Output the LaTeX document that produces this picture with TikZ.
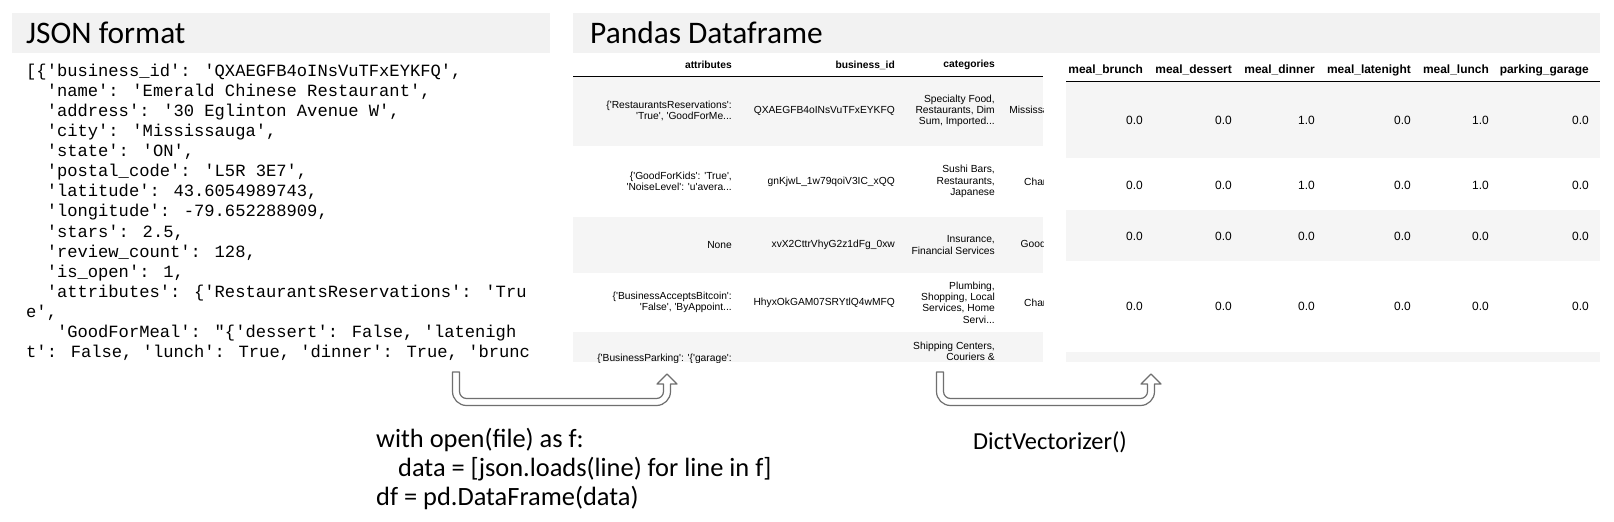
\documentclass[tikz,border=0pt]{standalone}
\usepackage{fontspec}
\setmainfont{Carlito}
\newfontfamily\jsonfont{Liberation Mono}
\newfontfamily\tabfont{Liberation Sans}
\definecolor{barcol}{HTML}{F2F2F2}
\definecolor{rowcol}{HTML}{F5F5F5}
\definecolor{arrcol}{HTML}{6F6F6F}
\begin{document}
\begin{tikzpicture}[x=1bp,y=-1bp,
  json/.style={inner sep=0pt, anchor=base west, font=\jsonfont\fontsize{17.2}{20}\selectfont},
  titletxt/.style={inner sep=0pt, anchor=base west, font=\fontsize{31.5}{36}\selectfont},
  captxt/.style={inner sep=0pt, anchor=base west, font=\fontsize{26.5}{32}\selectfont},
  cellA/.style={inner sep=0pt, anchor=east, align=right, font=\tabfont\fontsize{10.3}{11.3}\selectfont},
  headA/.style={inner sep=0pt, anchor=east, font=\tabfont\bfseries\fontsize{10.3}{11.3}\selectfont},
  cellB/.style={inner sep=0pt, anchor=east, font=\tabfont\fontsize{12}{14}\selectfont},
  headB/.style={inner sep=0pt, anchor=east, font=\tabfont\bfseries\fontsize{12}{14}\selectfont},
  arrowshape/.style={draw=arrcol, fill=white, line width=1.2bp, line join=round},
  uturn/.pic={
    \draw[arrowshape] (452.5,372) -- (452.5,391.5) .. controls (452.5,399.23) and (458.77,405.5) .. (466.5,405.5)
      -- (656.5,405.5) .. controls (664.23,405.5) and (670.5,399.23) .. (670.5,391.5)
      -- (670.5,384) -- (677,384) -- (667,374) -- (657,384) -- (663.5,384)
      -- (663.5,391.5) .. controls (663.5,395.37) and (660.37,398.5) .. (656.5,398.5)
      -- (466.5,398.5) .. controls (462.63,398.5) and (459.5,395.37) .. (459.5,391.5)
      -- (459.5,372) -- cycle;
  }
]
\useasboundingbox (0,0) rectangle (1614,522);
\fill[white] (0,0) rectangle (1614,522);

% header bars
\fill[barcol] (12,13) rectangle (550,53);
\fill[barcol] (573,13) rectangle (1600,53);
\node[titletxt] (tj) at (26,44) {JSON format};
\node[titletxt] (tp) at (590,44) {Pandas Dataframe};

% JSON text
\node[json] (j1) at (26,76.5) {[\{'business\_id': 'QXAEGFB4oINsVuTFxEYKFQ',};
\node[json] (j2) at (26,96.6) {\hphantom{xx}'name': 'Emerald Chinese Restaurant',};
\node[json] (j3) at (26,116.6) {\hphantom{xx}'address': '30 Eglinton Avenue W',};
\node[json] (j4) at (26,136.7) {\hphantom{xx}'city': 'Mississauga',};
\node[json] (j5) at (26,156.8) {\hphantom{xx}'state': 'ON',};
\node[json] (j6) at (26,176.9) {\hphantom{xx}'postal\_code': 'L5R 3E7',};
\node[json] (j7) at (26,196.9) {\hphantom{xx}'latitude': 43.6054989743,};
\node[json] (j8) at (26,217.0) {\hphantom{xx}'longitude': -79.652288909,};
\node[json] (j9) at (26,237.1) {\hphantom{xx}'stars': 2.5,};
\node[json] (j10) at (26,257.1) {\hphantom{xx}'review\_count': 128,};
\node[json] (j11) at (26,277.2) {\hphantom{xx}'is\_open': 1,};
\node[json] (j12) at (26,297.3) {\hphantom{xx}'attributes': \{'RestaurantsReservations': 'Tru};
\node[json] (j13) at (26,317.3) {e',};
\node[json] (j14) at (26,337.4) {\hphantom{xxx}'GoodForMeal': "\{'dessert': False, 'latenigh};
\node[json] (j15) at (26,357.5) {t': False, 'lunch': True, 'dinner': True, 'brunc};

% first table
\begin{scope}
\clip (573,54) rectangle (1043,362);
\fill[rowcol] (573,76) rectangle (1043,146);
\fill[rowcol] (573,217) rectangle (1043,273);
\fill[rowcol] (573,332) rectangle (1043,362);
\draw[line width=0.9bp] (573,76) -- (1043,76);
\node[headA] (ha) at (732,65) {attributes};
\node[headA] (hb) at (895,65) {business\_id};
\node[headA] (hc) at (995,65) {categories};
\node[cellA] (a1) at (732,111) {\{'RestaurantsReservations':\\'True', 'GoodForMe...};
\node[cellA] (b1) at (895,111) {QXAEGFB4oINsVuTFxEYKFQ};
\node[cellA] (c1) at (995,111) {Specialty Food,\\Restaurants, Dim\\Sum, Imported...};
\node[cellA] (d1) at (1066,111) {Mississauga};
\node[cellA] (a2) at (732,181.5) {\{'GoodForKids': 'True',\\'NoiseLevel': 'u'avera...};
\node[cellA] (b2) at (895,181.5) {gnKjwL\_1w79qoiV3IC\_xQQ};
\node[cellA] (c2) at (995,181.5) {Sushi Bars,\\Restaurants,\\Japanese};
\node[cellA] (d2) at (1066,181.5) {Charlotte};
\node[cellA] (a3) at (732,245) {None};
\node[cellA] (b3) at (895,245) {xvX2CttrVhyG2z1dFg\_0xw};
\node[cellA] (c3) at (995,245) {Insurance,\\Financial Services};
\node[cellA] (d3) at (1066,245) {Goodyear};
\node[cellA] (a4) at (732,302.5) {\{'BusinessAcceptsBitcoin':\\'False', 'ByAppoint...};
\node[cellA] (b4) at (895,302.5) {HhyxOkGAM07SRYtlQ4wMFQ};
\node[cellA] (c4) at (995,302.5) {Plumbing,\\Shopping, Local\\Services, Home\\Servi...};
\node[cellA] (d4) at (1066,302.5) {Charlotte};
\node[cellA, anchor=north east] (a5) at (732,354) {\{'BusinessParking': '\{'garage':};
\node[cellA, anchor=north east] (c5) at (995,342) {Shipping Centers,\\Couriers \&};
\end{scope}

% second table
\begin{scope}
\clip (1066,54) rectangle (1600,362);
\fill[rowcol] (1066,81) rectangle (1600,158);
\fill[rowcol] (1066,210) rectangle (1600,261);
\fill[rowcol] (1066,352) rectangle (1600,362);
\draw[line width=0.9bp] (1066,81) -- (1600,81);
\node[headB] (m1) at (1143,70) {meal\_brunch};
\node[headB] (m2) at (1232,70) {meal\_dessert};
\node[headB] (m3) at (1315,70) {meal\_dinner};
\node[headB] (m4) at (1411,70) {meal\_latenight};
\node[headB] (m5) at (1489,70) {meal\_lunch};
\node[headB] (m6) at (1589,70) {parking\_garage};
\foreach \y/\va/\vb/\vc/\vd/\ve/\vf [count=\r] in
  {120/0.0/0.0/1.0/0.0/1.0/0.0, 185/0.0/0.0/1.0/0.0/1.0/0.0,
   236/0.0/0.0/0.0/0.0/0.0/0.0, 306/0.0/0.0/0.0/0.0/0.0/0.0}{
  \node[cellB] (v\r a) at (1143,\y) {\va};
  \node[cellB] (v\r b) at (1232,\y) {\vb};
  \node[cellB] (v\r c) at (1315,\y) {\vc};
  \node[cellB] (v\r d) at (1411,\y) {\vd};
  \node[cellB] (v\r e) at (1489,\y) {\ve};
  \node[cellB] (v\r f) at (1589,\y) {\vf};
}
\end{scope}

% U-turn arrows
\pic at (0,0) {uturn};
\pic at (484,0) {uturn};

% captions
\node[captxt] (k1) at (376,447.5) {with open(file) as f:};
\node[captxt] (k2) at (398,476.5) {data = [json.loads(line) for line in f]};
\node[captxt] (k3) at (376,505.5) {df = pd.DataFrame(data)};
\node[captxt, font=\fontsize{24.5}{30}\selectfont] (dv) at (973,449) {DictVectorizer()};
\end{tikzpicture}
\end{document}
